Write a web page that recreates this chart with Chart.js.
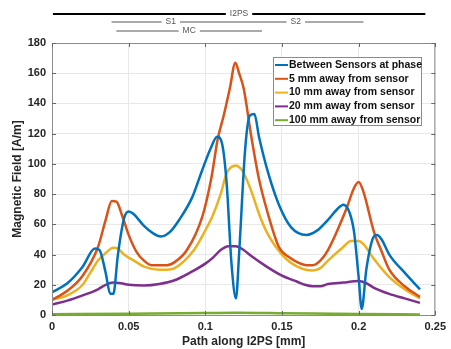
<!DOCTYPE html>
<html>
<head>
<meta charset="utf-8">
<script src="https://cdn.jsdelivr.net/npm/chart.js@4/dist/chart.umd.min.js"></script>
<style>
    html, body { margin: 0; padding: 0; background: #fff; }
    #wrap { width: 451px; height: 349px; }
</style>
</head>
<body>
<div id="wrap"><canvas id="fieldChart"></canvas></div>
<script>
const seriesLabels = [
    "Between Sensors at phase",
    "5 mm away from sensor",
    "10 mm away from sensor",
    "20 mm away from sensor",
    "100 mm away from sensor"
];
const seriesColors = ["#0072BD", "#D95319", "#EDB120", "#7E2F8E", "#77AC30"];

const xBetween = [0, 0.01, 0.02, 0.028, 0.031, 0.035, 0.038, 0.040, 0.043, 0.047, 0.050, 0.053, 0.06, 0.066, 0.071, 0.077, 0.083, 0.0915, 0.098, 0.1034, 0.1077, 0.111, 0.114, 0.117, 0.120, 0.122, 0.126, 0.129, 0.132, 0.135, 0.141, 0.148, 0.156, 0.166, 0.173, 0.18, 0.186, 0.19, 0.194, 0.197, 0.200, 0.202, 0.205, 0.209, 0.212, 0.215, 0.22, 0.23, 0.24];
const yBetween = [15, 21, 32, 44, 43, 28, 14, 14, 40, 64, 68.5, 67, 59, 54, 52, 55, 63, 78, 96, 110, 118, 113, 86, 35, 11, 40, 110, 132, 133, 118, 94, 73, 58, 53, 56, 63, 70, 73, 68, 55, 25, 4, 30, 50, 53, 50, 40, 28, 17];

const x5mm = [0, 0.01, 0.02, 0.03, 0.035, 0.039, 0.042, 0.046, 0.05, 0.055, 0.06, 0.065, 0.075, 0.08, 0.088, 0.098, 0.104, 0.108, 0.112, 0.116, 0.1196, 0.122, 0.125, 0.13, 0.135, 0.14, 0.148, 0.155, 0.16, 0.166, 0.17, 0.175, 0.18, 0.1917, 0.197, 0.2, 0.203, 0.21, 0.215, 0.22, 0.23, 0.24];
const y5mm = [10, 16, 26, 45, 63, 75.5, 75, 65, 53, 42, 36, 33, 33, 35, 43, 65, 91, 116, 132, 150, 167, 160, 150, 118, 90, 70, 45, 38, 35, 33, 33, 36, 43, 69.5, 84, 88, 82, 55, 42, 30, 19, 12];

const x10mm = [0, 0.01, 0.02, 0.025, 0.03, 0.035, 0.04, 0.043, 0.047, 0.055, 0.06, 0.07, 0.075, 0.08, 0.0926, 0.1, 0.1045, 0.11, 0.114, 0.12, 0.123, 0.125, 0.13, 0.135, 0.14, 0.15, 0.16, 0.17, 0.175, 0.18, 0.19, 0.195, 0.20, 0.203, 0.21, 0.22, 0.23, 0.24];
const y10mm = [10, 13, 20, 28, 36, 41, 44.5, 44, 40, 35, 32, 30, 30, 31, 43, 56, 65, 80, 94, 99, 97, 94, 82, 67, 55, 40, 32, 29.5, 31, 36, 45, 49, 49, 47, 37, 25, 17, 11];

const x20mm = [0, 0.01, 0.02, 0.03, 0.035, 0.04, 0.045, 0.05, 0.06, 0.07, 0.08, 0.09, 0.10, 0.105, 0.11, 0.115, 0.12, 0.125, 0.13, 0.14, 0.15, 0.16, 0.165, 0.17, 0.175, 0.18, 0.19, 0.20, 0.205, 0.21, 0.22, 0.23, 0.24];
const y20mm = [7, 9.5, 13, 17, 20, 21.5, 21, 20, 19.5, 20.5, 23, 28, 34, 38, 43, 45.5, 45.5, 43, 39, 32, 26, 22, 20, 19, 19, 20.5, 21.5, 22.5, 21, 18, 14, 11, 8];

const x100mm = [0, 0.05, 0.10, 0.12, 0.15, 0.20, 0.24];
const y100mm = [0.5, 0.8, 1.3, 1.5, 1.2, 0.6, 0.4];

const xTickStep = 0.05;
const yTickStep = 20;

// span bars drawn above the plot
const spanNames = ["I2PS", "S1", "S2", "MC"];
const spanStarts = [0.0006, 0.039, 0.039, 0.042];
const spanEnds = [0.2435, 0.203, 0.203, 0.137];
const spanLabelAt = [0.122, 0.0775, 0.159, 0.0895];

function toPoints(xs, ys) {
    return xs.map((x, i) => ({ x: x, y: ys[i] }));
}

const spanPlugin = {
    id: 'spans',
    afterDraw(chart) {
        const ctx = chart.ctx;
        const xs = chart.scales.x;
        const rows = [14, 22, 22, 31];
        const cols = ["#000", "#aaa", "#aaa", "#aaa"];
        ctx.save();
        ctx.font = "8.5px 'Liberation Sans', Arial, sans-serif";
        ctx.textAlign = 'center';
        ctx.textBaseline = 'middle';
        spanNames.forEach((name, i) => {
            const y = rows[i];
            ctx.strokeStyle = cols[i];
            ctx.lineWidth = i === 0 ? 2 : 1.8;
            ctx.beginPath();
            ctx.moveTo(xs.getPixelForValue(spanStarts[i]), y);
            ctx.lineTo(xs.getPixelForValue(spanEnds[i]), y);
            ctx.stroke();
        });
        spanNames.forEach((name, i) => {
            const y = rows[i];
            const cx = xs.getPixelForValue(spanLabelAt[i]);
            const w = ctx.measureText(name).width + 8;
            ctx.fillStyle = '#fff';
            ctx.fillRect(cx - w / 2, y - 4, w, 8);
            ctx.fillStyle = '#555';
            ctx.fillText(name, cx, y);
        });
        ctx.restore();
    }
};

const framePlugin = {
    id: 'frame',
    afterDatasetsDraw(chart) {
        const { ctx, chartArea: a } = chart;
        ctx.save();
        ctx.strokeStyle = '#8c8c8c';
        ctx.lineWidth = 1;
        ctx.strokeRect(a.left + 0.5, a.top + 0.5, a.right - a.left - 1, a.bottom - a.top);
        // inward ticks on all four sides like MATLAB
        ctx.strokeStyle = '#666';
        chart.scales.x.ticks.forEach(t => {
            const px = Math.round(chart.scales.x.getPixelForValue(t.value)) + 0.5;
            ctx.beginPath(); ctx.moveTo(px, a.top); ctx.lineTo(px, a.top + 4); ctx.stroke();
            ctx.beginPath(); ctx.moveTo(px, a.bottom); ctx.lineTo(px, a.bottom - 4); ctx.stroke();
        });
        chart.scales.y.ticks.forEach(t => {
            const py = Math.round(chart.scales.y.getPixelForValue(t.value)) + 0.5;
            ctx.beginPath(); ctx.moveTo(a.right, py); ctx.lineTo(a.right - 4, py); ctx.stroke();
            ctx.beginPath(); ctx.moveTo(a.left, py); ctx.lineTo(a.left + 4, py); ctx.stroke();
        });
        ctx.restore();
    }
};

const legendPlugin = {
    id: 'boxLegend',
    afterDraw(chart) {
        const ctx = chart.ctx;
        const left = 273, top = 57, w = 148, h = 68, rowH = 13.8;
        ctx.save();
        ctx.fillStyle = '#fff';
        ctx.fillRect(left, top, w, h);
        ctx.strokeStyle = '#8c8c8c';
        ctx.lineWidth = 1;
        ctx.strokeRect(left + 0.5, top + 0.5, w, h);
        ctx.font = "bold 10.5px 'Liberation Sans', Arial, sans-serif";
        ctx.textBaseline = 'middle';
        ctx.textAlign = 'left';
        chart.data.datasets.forEach((ds, i) => {
            const y = top + 8 + i * rowH;
            ctx.strokeStyle = ds.borderColor;
            ctx.lineWidth = 2;
            ctx.beginPath(); ctx.moveTo(left + 2, y); ctx.lineTo(left + 15, y); ctx.stroke();
            ctx.fillStyle = '#111';
            ctx.fillText(ds.label, left + 16, y);
        });
        ctx.restore();
    }
};

function createFieldChart() {
    const ctx = document.getElementById('fieldChart').getContext('2d');
    const xsList = [xBetween, x5mm, x10mm, x20mm, x100mm];
    const ysList = [yBetween, y5mm, y10mm, y20mm, y100mm];
    const datasets = seriesLabels.map((label, i) => ({
        label: label,
        data: toPoints(xsList[i], ysList[i]),
        borderColor: seriesColors[i],
        backgroundColor: seriesColors[i],
        borderWidth: 2.5,
        pointRadius: 0,
        cubicInterpolationMode: 'monotone',
        fill: false
    }));
    new Chart(ctx, {
        type: 'line',
        data: { datasets: datasets },
        options: {
            responsive: true,
            maintainAspectRatio: false,
            animation: false,
            layout: { padding: { top: 43, right: 13, left: 0, bottom: 0 } },
            plugins: {
                legend: { display: false },
                tooltip: { enabled: false }
            },
            scales: {
                x: {
                    type: 'linear',
                    min: 0,
                    max: 0.25,
                    afterFit: s => { s.height = 34; },
                    grid: { color: '#e8e8e8', drawTicks: false },
                    border: { display: false },
                    ticks: {
                        stepSize: xTickStep,
                        padding: 5,
                        color: '#262626',
                        font: { family: "'Liberation Sans', Arial, sans-serif", size: 11, weight: 'bold' },
                        callback: v => String(Number(v.toFixed(2)))
                    },
                    title: {
                        display: true,
                        text: 'Path along I2PS [mm]',
                        color: '#262626',
                        padding: { top: 0, bottom: 0 },
                        font: { family: "'Liberation Sans', Arial, sans-serif", size: 12, weight: 'bold' }
                    }
                },
                y: {
                    min: 0,
                    max: 180,
                    afterFit: s => { s.width = 52; },
                    grid: { color: '#e8e8e8', drawTicks: false },
                    border: { display: false },
                    ticks: {
                        stepSize: yTickStep,
                        padding: 6,
                        color: '#262626',
                        font: { family: "'Liberation Sans', Arial, sans-serif", size: 11, weight: 'bold' }
                    },
                    title: {
                        display: true,
                        text: 'Magnetic Field [A/m]',
                        color: '#262626',
                        padding: { top: 10, bottom: 0 },
                        font: { family: "'Liberation Sans', Arial, sans-serif", size: 12, weight: 'bold' }
                    }
                }
            }
        },
        plugins: [framePlugin, spanPlugin, legendPlugin]
    });
}

document.addEventListener("DOMContentLoaded", function() {
    createFieldChart();
});
</script>
</body>
</html>
